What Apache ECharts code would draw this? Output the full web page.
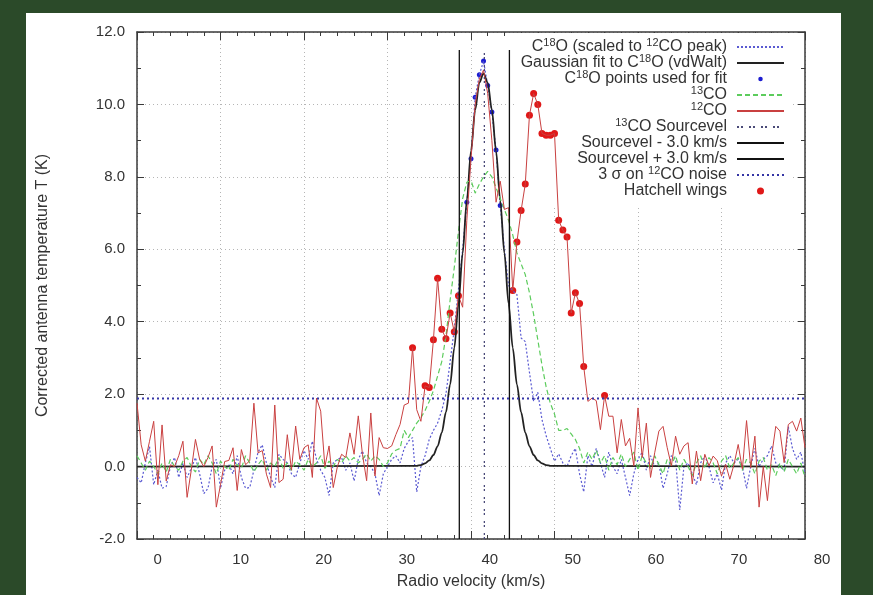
<!DOCTYPE html>
<html>
<head>
<meta charset="utf-8">
<title>CO spectrum</title>
<script src="https://cdn.jsdelivr.net/npm/echarts@6/dist/echarts.min.js"></script>
<style>
  html, body { margin: 0; padding: 0; background: #2b4a29; }
  #chart { position: absolute; left: 26px; top: 13px; width: 815px; height: 582px; background: #fff; }
</style>
</head>
<body>
<div id="chart"></div>
<script>
  // channel grid of the spectra (km/s)
  const velStart = -2.35;
  const velStep = 0.5;

  // 12CO corrected antenna temperature per channel (K)
  const co12 = [
    1.75, 0.6, 0.15, 0.7, 1.25, -0.5, 1.15, -0.4, 0.05, 0.0,
    0.3, 0.7, -0.85, -0.1, 0.75, 0.2, 0.0, 0.25, 0.57, -1.12,
    -0.5, 0.14, 0.17, 0.52, -0.66, 0.47, 0.05, 0.16, 1.75, 0.38,
    0.44, -0.21, -0.58, 1.7, -0.44, -0.35, 0.88, -0.1, 1.12, 0.2,
    0.52, 0.6, -0.3, 1.89, 1.53, 0.0, 0.57, -0.58, 0.0, 0.34,
    0.25, 0.93, 0.34, 1.4, 0.34, -0.39, 1.48, -0.26, 0.8, 0.52,
    0.5, 0.57, 0.88, 1.16, 1.7, 1.75, 3.28, 1.57, 1.25, 2.23,
    2.18, 3.5, 5.2, 3.79, 3.53, 4.24, 3.72, 4.72, 4.4, 6.8,
    8.5, 10.0, 10.7, 10.95, 10.3, 9.0, 7.3, 7.88, 7.1, 7.15,
    4.86, 6.2, 7.07, 7.8, 9.7, 10.3, 10.0, 9.2, 9.15, 9.15,
    9.2, 6.8, 6.53, 6.34, 4.24, 4.8, 4.5, 2.76, 1.8, 1.89,
    1.82, 1.02, 1.96, 1.39, 1.39, 0.38, 1.3, 0.57, 0.78, 0.02,
    1.62, 0.25, 1.2, -0.3, 0.38, 0.98, 1.11, 0.52, 0.02, 0.84,
    0.34, 0.57, 0.66, -0.48, 0.43, -0.39, 0.34, 0.02, 0.29, 0.16,
    -0.26, 0.06, -0.35, 0.06, 0.61, -0.07, 1.27, -0.03, 0.84, -1.12,
    0.0, -0.94, 0.29, 1.11, 0.98, 0.11, 1.16, 1.25, 0.98, 1.34,
    0.52
  ];

  // 13CO per channel (K)
  const co13 = [
    0.3, 0.1, -0.1, 0.15, 0.0, -0.2, 0.1, -0.15, 0.2, 0.0,
    -0.1, 0.15, 0.25, 0.0, -0.15, 0.2, 0.05, 0.3, 0.1, -0.2,
    0.15, 0.0, -0.1, 0.2, 0.05, -0.05, 0.3, 0.1, -0.15, 0.05,
    0.2, -0.1, 0.1, 0.0, 0.25, -0.05, 0.1, -0.1, 0.15, 0.05,
    -0.1, 0.2, 0.0, 0.1, 0.3, -0.05, 0.15, 0.0, 0.2, 0.1,
    0.3, 0.15, 0.25, 0.1, 0.2, 0.35, 0.15, 0.3, 0.2, 0.0,
    0.1, 0.35, 0.45, 0.5, 1.0, 0.8, 1.0, 1.2, 1.35, 1.55,
    1.8, 2.1, 2.5, 2.9, 3.6, 4.6, 5.5, 6.5, 7.4, 7.85,
    7.9, 7.55, 7.8, 8.0, 8.15, 8.0, 7.7, 7.4, 7.1, 6.8,
    6.4, 5.9, 5.6, 5.3, 4.8, 4.2, 3.5, 2.8, 2.2, 1.75,
    1.45, 1.0, 1.0, 1.05, 0.9, 0.75, 0.5, 0.1, 0.4, 0.2,
    0.45, 0.1, 0.3, -0.1, 0.25, 0.05, 0.35, 0.0, 0.2, 0.4,
    -0.1, 0.3, 0.1, -0.05, 0.3, 0.05, -0.2, 0.2, 0.05, 0.3,
    -0.1, 0.2, 0.0, -0.25, 0.1, 0.3, -0.05, 0.25, 0.1, -0.2,
    0.15, 0.3, -0.05, 0.1, 0.25, -0.1, 0.2, 0.1, -0.2, 0.15,
    0.25, -0.1, 0.05, -0.25, 0.1, -0.15, 0.2, 0.0, -0.2, 0.1,
    -0.3
  ];

  // C18O scaled to the 12CO peak, per channel (K)
  const c18o = [
    -0.3, -0.45, 0.1, 0.55, -0.5, -0.1, -0.6, -0.55, 0.0, 0.25,
    -0.3, 0.1, -0.3, -0.05, 0.25, -0.2, -0.75, -0.6, 0.0, 0.2,
    -0.6, -0.1, 0.05, -0.2, 0.3, -0.3, -0.6, -0.58, -0.1, 0.4,
    0.6, 0.1, -0.3, -0.58, 0.34, 0.2, 0.1, -0.2, -0.3, 0.1,
    0.44, 0.2, 0.7, 0.2, -0.1, -0.3, -0.8, 0.1, 0.2, 0.25,
    -0.1, 0.1, -0.4, 0.2, 0.43, 0.1, 0.0, -0.2, -0.8, -0.2,
    0.0, 0.2, 0.3, 0.1, 0.5, 0.7, 0.8, -0.7, 0.0, 0.3,
    0.75, 1.0, 1.2, 1.55, 2.0, 2.9, 3.8, 4.9, 6.0, 7.3,
    8.5, 10.2, 10.82, 11.2, 10.52, 9.79, 8.74, 7.21, 6.0, 5.0,
    4.85, 4.75, 3.55, 3.45, 2.6, 1.8, 2.05, 1.3, 0.85, 0.5,
    0.15, 0.35, 0.1, 0.0, 0.3, 0.5, -0.2, -0.7, 0.3, 0.0,
    0.5, 0.1, -0.3, 0.4, 0.0, -0.2, 0.2, -0.3, -0.8, -0.2,
    0.2, 0.4, -0.1, 0.3, 0.0, 0.1, -0.6, -0.2, 0.3, 0.2,
    -1.2, 0.0, 0.1, -0.2, -0.5, 0.1, 0.3, 0.0, -0.45, -0.2,
    -0.65, 0.1, 0.3, 0.1, 0.2, 0.0, -0.6, 0.0, 0.5, 0.0,
    0.2, 0.3, 0.57, 0.1, 0.0, -0.1, 1.1, 0.5, 0.2, 0.4,
    -0.2
  ];

  const gaussFirst = 67;
  const gaussT = [
    0.02, 0.04, 0.09, 0.17, 0.32, 0.56, 0.94, 1.5, 2.27, 3.28,
    4.5, 5.89, 7.35, 8.71, 9.85, 10.6, 10.86, 10.6, 9.85, 8.71,
    7.35, 5.89, 4.5, 3.28, 2.27, 1.5, 0.94, 0.56, 0.32, 0.17,
    0.09, 0.04, 0.02
  ];

  // channels marked in the plot
  const fitChannels = [79, 80, 81, 82, 83, 84, 85, 86, 87];
  const wingChannels = [66, 69, 70, 71, 72, 73, 74, 75, 76, 77,
    90, 91, 92, 93, 94, 95, 96, 97, 98, 99, 100, 101, 102, 103, 104, 105, 106, 107, 112];

  const sourceVel = 39.25;
  const velOffset = 3.0;
  const markerTop = 11.5;
  const noise3Sigma = 1.88;
  const xTickLabels = [0, 10, 20, 30, 40, 50, 60, 70, 80];

  const legendNames = ['c18o', 'gauss', 'fitpts', 'co13', 'co12', 'srcvel', 'minus', 'plus', 'noise', 'wings'];
  const pointNames = ['fitpts', 'wings'];
  const legendLabels = {
    c18o: 'C{sup|18}O (scaled to {sup|12}CO peak)',
    gauss: 'Gaussian fit to C{sup|18}O (vdWalt)',
    fitpts: 'C{sup|18}O points used for fit',
    co13: '{sup|13}CO',
    co12: '{sup|12}CO',
    srcvel: '{sup|13}CO Sourcevel',
    minus: 'Sourcevel - 3.0 km/s',
    plus: 'Sourcevel + 3.0 km/s',
    noise: '3 σ on {sup|12}CO noise',
    wings: 'Hatchell wings'
  };

  const vel = k => velStart + velStep * k;
  const velEnd = vel(co12.length - 1);
  const toPairs = arr => arr.map((t, k) => [vel(k), t]);
  const font = "'Liberation Sans', Arial, sans-serif";
  const ink = '#333';
  const frameColor = '#3a3a3a';

  const gaussData = [[velStart, 0]]
    .concat(gaussT.map((t, i) => [vel(gaussFirst + i), t]))
    .concat([[velEnd, 0]]);

  const frameLine = { show: true, onZero: false, lineStyle: { color: frameColor, width: 1.5 } };
  const gridDots = { show: true, lineStyle: { color: '#b5b5b5', width: 1, type: [1, 3] } };

  const xBase = {
    type: 'value', gridIndex: 0, min: velStart, max: velEnd, interval: 10,
    axisLine: frameLine,
    axisTick: { inside: true, length: 8, lineStyle: { color: frameColor } },
    minorTick: { show: true, splitNumber: 5, length: 4, lineStyle: { color: frameColor } },
    axisLabel: { show: false }
  };
  const yBase = {
    type: 'value', gridIndex: 0, min: -2, max: 12, interval: 2,
    axisLine: frameLine,
    axisTick: { inside: true, length: 7, lineStyle: { color: frameColor } },
    minorTick: { show: true, splitNumber: 2, length: 4, lineStyle: { color: frameColor } }
  };

  // line entries get no marker in the key, the small fit points get a smaller dot
  const legendData = legendNames.map(n => {
    if (n === 'fitpts') {
      return { name: n, icon: 'path://M0,0M10,10M1.8,5A3.2,3.2,0,1,1,8.2,5A3.2,3.2,0,1,1,1.8,5Z' };
    }
    return pointNames.includes(n) ? { name: n } : { name: n, itemStyle: { opacity: 0 } };
  });

  const chart = echarts.init(document.getElementById('chart'));
  chart.setOption({
    animation: false,
    textStyle: { fontFamily: font },
    grid: [
      { left: 111, top: 19, width: 668, height: 510 },
      { left: 111, top: 19, width: 685, height: 510 }
    ],
    xAxis: [
      Object.assign({}, xBase, {
        position: 'bottom', splitLine: gridDots,
        name: 'Radio velocity (km/s)', nameLocation: 'middle', nameGap: 35,
        nameTextStyle: { fontFamily: font, fontSize: 16, color: ink }
      }),
      Object.assign({}, xBase, { position: 'top', splitLine: { show: false } }),
      {
        type: 'value', gridIndex: 1, position: 'bottom', min: -2.48, max: 80,
        axisLine: { show: false }, axisTick: { show: false }, splitLine: { show: false },
        axisLabel: { customValues: xTickLabels, margin: 10, fontFamily: font, fontSize: 15, color: ink }
      }
    ],
    yAxis: [
      Object.assign({}, yBase, {
        position: 'left', splitLine: gridDots,
        axisLabel: { formatter: v => v.toFixed(1), margin: 12, fontFamily: font, fontSize: 15, color: ink },
        name: 'Corrected antenna temperature T (K)', nameLocation: 'middle', nameGap: 86, nameRotate: 90,
        nameTextStyle: { fontFamily: font, fontSize: 16, color: ink }
      }),
      Object.assign({}, yBase, { position: 'right', axisLabel: { show: false }, splitLine: { show: false } }),
      { type: 'value', gridIndex: 1, min: 0, max: 1, show: false }
    ],
    legend: {
      orient: 'vertical', right: 50, top: 20, align: 'right',
      itemWidth: 47, itemHeight: 7, itemGap: -4,
      padding: [4, 6, 4, 6], backgroundColor: '#fff', z: 1,
      data: legendData,
      formatter: name => legendLabels[name],
      textStyle: {
        fontFamily: font, fontSize: 16, color: ink, lineHeight: 20, padding: [0, 5, 0, 0],
        rich: { sup: { fontFamily: font, fontSize: 11, color: ink, lineHeight: 20, verticalAlign: 'top' } }
      }
    },
    series: [
      {
        name: 'c18o', type: 'line', data: toPairs(c18o), symbol: 'none',
        lineStyle: { color: '#5a5ad2', width: 1.2, type: [2, 2] }
      },
      {
        name: 'gauss', type: 'line', data: gaussData, symbol: 'none', smooth: 0.3, smoothMonotone: 'x',
        lineStyle: { color: '#222', width: 1.8 }
      },
      {
        name: 'fitpts', type: 'scatter', symbolSize: 5,
        data: fitChannels.map(k => [vel(k), c18o[k]]),
        itemStyle: { color: '#1c1cd0', opacity: 1 }
      },
      {
        name: 'co13', type: 'line', data: toPairs(co13), symbol: 'none',
        lineStyle: { color: '#5ccc5c', width: 1.2, type: [5, 3] }
      },
      {
        name: 'co12', type: 'line', data: toPairs(co12), symbol: 'none',
        lineStyle: { color: '#c94040', width: 1 }
      },
      {
        name: 'srcvel', type: 'line', symbol: 'none',
        data: [[sourceVel, -2], [sourceVel, markerTop]],
        lineStyle: { color: '#4a4a78', width: 1.3, type: [2, 2, 2, 6] }
      },
      {
        name: 'minus', type: 'line', symbol: 'none',
        data: [[sourceVel - velOffset, -2], [sourceVel - velOffset, markerTop]],
        lineStyle: { color: '#111', width: 1.3 }
      },
      {
        name: 'plus', type: 'line', symbol: 'none',
        data: [[sourceVel + velOffset, -2], [sourceVel + velOffset, markerTop]],
        lineStyle: { color: '#111', width: 1.3 }
      },
      {
        name: 'noise', type: 'line', symbol: 'none',
        data: [[velStart, noise3Sigma], [velEnd, noise3Sigma]],
        lineStyle: { color: '#3535a5', width: 1.8, type: [2, 3] }
      },
      {
        name: 'wings', type: 'scatter', symbolSize: 7,
        data: wingChannels.map(k => [vel(k), co12[k]]),
        itemStyle: { color: '#e01818', opacity: 1 }
      }
    ]
  });
</script>
</body>
</html>
